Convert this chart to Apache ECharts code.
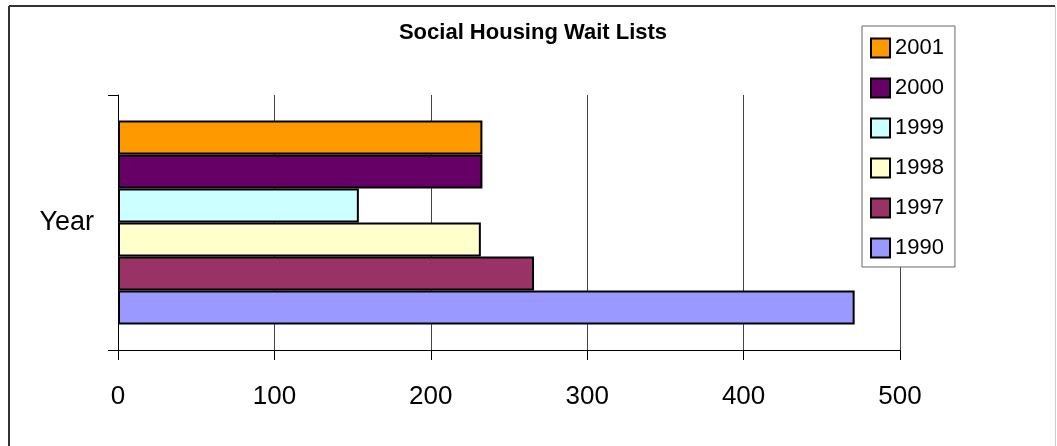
<!DOCTYPE html>
<html>
<head>
<meta charset="utf-8">
<script src="https://cdn.jsdelivr.net/npm/echarts@6/dist/echarts.min.js"></script>
<style>
html,body{margin:0;padding:0;background:#fff;}
#chart{width:1057px;height:446px;}
</style>
</head>
<body>
<div id="chart"></div>
<script>
// ---- data ----
const categories = ['Year'];
const seriesNames = ['2001', '2000', '1999', '1998', '1997', '1990'];
const seriesValues = [233, 233, 154, 232, 266, 471];
const xTickValues = [0, 100, 200, 300, 400, 500];
const titleText = 'Social Housing Wait Lists';

// ---- styles ----
const barColors = ['#FF9900', '#660066', '#CCFFFF', '#FFFFCC', '#993366', '#9999FF'];
const SANS = "'Liberation Sans', Arial, sans-serif";

const chart = echarts.init(document.getElementById('chart'), null, {renderer: 'canvas'});

const series = seriesNames.map((name, i) => ({
  name: name,
  type: 'bar',
  data: categories.map(() => seriesValues[i]),
  barGap: '0%',
  barCategoryGap: '20%',
  itemStyle: {color: barColors[i], borderColor: '#000', borderWidth: 2},
  emphasis: {disabled: true},
  animation: false
}));

chart.setOption({
  animation: false,
  backgroundColor: '#fff',
  title: {
    text: titleText,
    left: 533,
    textAlign: 'center',
    top: 22,
    padding: 0,
    textStyle: {fontFamily: SANS, fontWeight: 'bold', fontSize: 22, color: '#000'}
  },
  legend: {
    orient: 'vertical',
    left: 862,
    top: 26,
    padding: [11, 11, 8, 8],
    itemWidth: 19,
    itemHeight: 19,
    itemGap: 18,
    icon: 'rect',
    backgroundColor: '#fff',
    borderColor: '#666',
    borderWidth: 1,
    borderRadius: 0,
    selectedMode: false,
    data: seriesNames.slice(),
    textStyle: {fontFamily: SANS, fontSize: 22, color: '#000'},
    z: 10
  },
  grid: {left: 118, right: 157, top: 95, bottom: 96, containLabel: false},
  xAxis: {
    type: 'value',
    min: xTickValues[0],
    max: xTickValues[xTickValues.length - 1],
    interval: xTickValues[1] - xTickValues[0],
    axisLine: {show: true, lineStyle: {color: '#000', width: 1}},
    axisTick: {show: true, inside: false, length: 10, lineStyle: {color: '#000'}},
    axisLabel: {fontFamily: SANS, fontSize: 26, color: '#000', margin: 34},
    splitLine: {show: true, lineStyle: {color: '#444', width: 1}}
  },
  yAxis: {
    type: 'category',
    data: categories,
    inverse: true,
    axisLine: {show: true, lineStyle: {color: '#000', width: 1}},
    axisTick: {show: true, inside: false, length: 10, lineStyle: {color: '#000'}},
    axisLabel: {fontFamily: SANS, fontSize: 27, color: '#000', margin: 24},
    splitLine: {show: false}
  },
  graphic: [
    {type: 'line', shape: {x1: 9, y1: 6, x2: 1055, y2: 6}, style: {stroke: '#333', lineWidth: 2}, silent: true},
    {type: 'line', shape: {x1: 9, y1: 6, x2: 9, y2: 446}, style: {stroke: '#333', lineWidth: 2}, silent: true},
    {type: 'line', shape: {x1: 1055.5, y1: 6, x2: 1055.5, y2: 446}, style: {stroke: '#ccc', lineWidth: 1}, silent: true}
  ],
  series: series
});
</script>
</body>
</html>
